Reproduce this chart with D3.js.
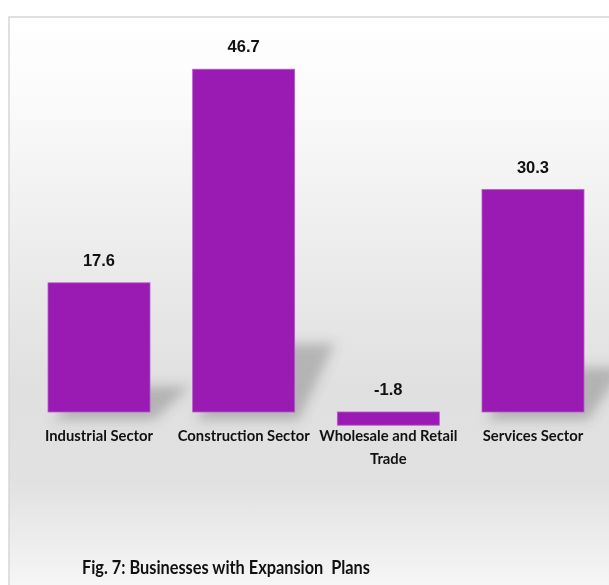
<!DOCTYPE html>
<html><head><meta charset="utf-8">
<script src="https://cdn.jsdelivr.net/npm/d3@7/dist/d3.min.js"></script>
<style>
html,body{margin:0;padding:0;background:#fff;}
svg{display:block;}
text{white-space:pre;}
</style>
</head><body>
<script>
const categories = ["Industrial Sector", "Construction Sector", "Wholesale and Retail Trade", "Services Sector"];
const categoryLines = [["Industrial Sector"], ["Construction Sector"], ["Wholesale and Retail", "Trade"], ["Services Sector"]];
const values = [17.6, 46.7, -1.8, 30.3];
const valueLabels = ["17.6", "46.7", "-1.8", "30.3"];
const title = "Fig. 7: Businesses with Expansion  Plans";

const W = 609, H = 585;
const FONT = "Lato, 'Open Sans', sans-serif";
const VFONT = "'Liberation Sans', Arial, sans-serif";
const svg = d3.select("body").append("svg").attr("width", W).attr("height", H);
const defs = svg.append("defs");
const grad = defs.append("linearGradient").attr("id","bg").attr("x1",0).attr("y1",0).attr("x2",0).attr("y2",1);
[[0,"#ffffff"],[0.15,"#fafafa"],[0.45,"#e9e9e9"],[0.62,"#e0e0e0"],[0.78,"#e1e1e1"],[1,"#fbfbfb"]].forEach(s=>
  grad.append("stop").attr("offset",s[0]).attr("stop-color",s[1]));
defs.append("filter").attr("id","blur").attr("x","-50%").attr("y","-50%").attr("width","200%").attr("height","200%")
  .append("feGaussianBlur").attr("stdDeviation",6);

function measure(sample, size){
  const t = svg.append("text").attr("font-family",FONT).attr("font-weight","bold").attr("font-size",size+"px").text(sample);
  const w = t.node().getComputedTextLength();
  t.remove();
  return w;
}
// horizontal squeeze of a text (or tspan) element by factor sx
function squeeze(sel, sx){
  sel.each(function(){
    const L = this.getComputedTextLength();
    d3.select(this).attr("textLength", L*sx).attr("lengthAdjust","spacingAndGlyphs");
  });
}

// frame
svg.append("rect").attr("x",9).attr("y",17).attr("width",W+10).attr("height",H+10)
  .attr("fill","url(#bg)").attr("stroke","#d6d6d6").attr("stroke-width",1.5);

const x = d3.scaleBand().domain(categories).range([26.67, 605.33]).paddingInner(0.295).paddingOuter(0.1475);
const y = d3.scaleLinear().domain([-5, 50]).range([448.7, 45]);

// shadows
const shadows = svg.append("g").attr("filter","url(#blur)");
categories.forEach((c,i)=>{
  const v = values[i];
  if (v <= 0) return;
  const x0 = x(c), x1 = x(c)+x.bandwidth();
  const base = y(0), top = y(v);
  const h = base - top;
  const dx = 40, rise = h*0.2;
  const pts = [[x0+4, base+8],[x1+4, base+8],[x1+dx, base-rise],[x0+dx, base-rise]];
  shadows.append("path").attr("d", "M"+pts.map(p=>p.join(",")).join("L")+"Z")
    .attr("fill","#555").attr("opacity",0.33);
});

// bars
svg.append("g").selectAll("rect").data(categories).join("rect")
  .attr("x", c=>x(c)).attr("width", x.bandwidth())
  .attr("y", (c,i)=>Math.min(y(values[i]), y(0)))
  .attr("height", (c,i)=>Math.abs(y(values[i])-y(0)))
  .attr("fill","#9a1bb3").attr("stroke","#b45acb").attr("stroke-width",0.8);

const valSize = 16.5, catSize = 15.5, titleSize = 19.5;
const catSx = 108 / measure("Industrial Sector", catSize);
const titleSx = 288 / measure(title, titleSize);

// value labels
svg.append("g").selectAll("text").data(categories).join("text")
  .attr("x", c=>x(c)+x.bandwidth()/2)
  .attr("y", (c,i)=>Math.min(y(values[i]), y(0)) - 17)
  .attr("text-anchor","middle")
  .attr("font-family",VFONT).attr("font-weight","bold")
  .attr("font-size",valSize+"px").attr("fill","#111")
  .text((c,i)=>valueLabels[i]);

// category labels
const cl = svg.append("g").selectAll("text").data(categories).join("text")
  .attr("x", c=>x(c)+x.bandwidth()/2)
  .attr("y", 441)
  .attr("text-anchor","middle")
  .attr("font-family",FONT).attr("font-weight","bold")
  .attr("font-size",catSize+"px").attr("fill","#111");
cl.each(function(c,i){
  const t = d3.select(this);
  categoryLines[i].forEach((ln,j)=>{
    t.append("tspan").attr("x", x(c)+x.bandwidth()/2).attr("dy", j===0?0:23).text(ln);
  });
});
squeeze(cl.selectAll("tspan"), catSx);

// title
const tt = svg.append("text").attr("x",82).attr("y",574)
  .attr("font-family",FONT).attr("font-weight","bold")
  .attr("font-size",titleSize+"px").attr("fill","#111").text(title);
squeeze(tt, titleSx);
</script>
</body></html>
